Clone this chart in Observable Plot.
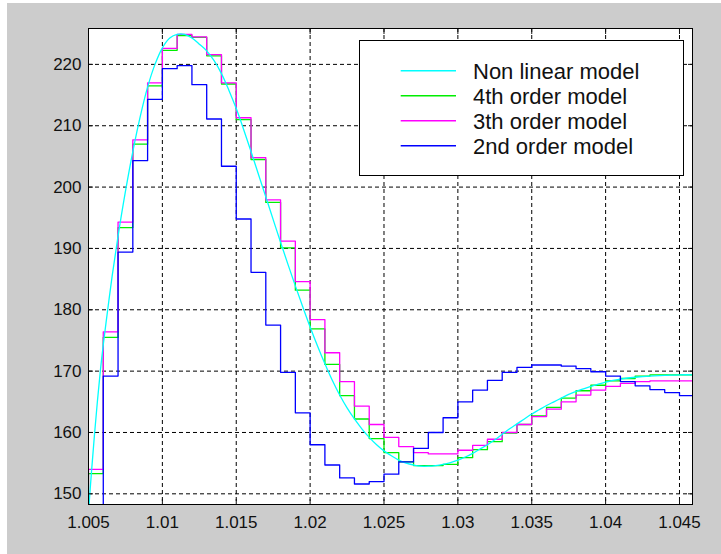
<!DOCTYPE html>
<html><head><meta charset="utf-8">
<script src="https://cdn.jsdelivr.net/npm/d3@7"></script>
<script src="https://cdn.jsdelivr.net/npm/@observablehq/plot@0.6"></script>
<style>
html,body{margin:0;padding:0;background:#fff;}
#wrap{position:absolute;left:7px;top:3px;}
</style></head><body><div id="wrap"></div>
<script>
const seriesNames = ["Non linear model","4th order model","3th order model","2nd order model"];
const seriesColors = ["#00ffff","#00ee00","#ff00ff","#0000ff"];
const xTicks = [1.005,1.01,1.015,1.02,1.025,1.03,1.035,1.04,1.045];
const yTicks = [150,160,170,180,190,200,210,220];

const stepTimes = [1.004,1.005,1.006,1.007,1.008,1.009,1.010,1.011,1.012,1.013,1.014,1.015,1.016,1.017,1.018,1.019,1.020,1.021,1.022,1.023,1.024,1.025,1.026,1.027,1.028,1.029,1.030,1.031,1.032,1.033,1.034,1.035,1.036,1.037,1.038,1.039,1.040,1.041,1.042,1.043,1.044,1.045,1.046];
const order4 = [147,153.3,175.5,193.4,207.0,216.5,222.3,224.7,224.4,221.4,216.8,211.0,204.5,197.5,190.1,183.2,176.9,171.1,166.0,162.2,159.0,156.7,155.2,154.6,154.6,154.8,155.9,157.2,158.5,159.9,161.3,162.7,164.1,165.6,166.8,167.7,168.4,168.8,169.2,169.4,169.4,169.4];
const order3 = [147,154.0,176.4,194.3,207.7,217.0,222.6,224.9,224.5,221.6,217.0,211.3,204.8,197.9,191.2,184.6,178.4,173.0,168.3,164.3,161.3,159.2,157.7,156.7,156.5,156.5,157.1,157.9,158.9,160.0,161.3,162.6,163.8,165.0,166.1,166.9,167.5,168.0,168.3,168.4,168.4,168.4];
const order2 = [147,147,169.2,189.4,204.3,214.3,219.3,219.8,216.7,211.1,203.4,194.8,186.1,177.5,169.8,163.2,158.0,154.7,152.6,151.6,152.0,153.2,155.2,157.4,160.0,162.4,165.0,166.9,168.5,169.8,170.6,171.0,171.0,170.8,170.4,169.9,169.2,168.3,167.6,167.0,166.5,166.0];

const nlTimes = [1.0050,1.0052,1.0054,1.0056,1.0058,1.0060,1.0063,1.0066,1.0070,1.0075,1.0080,1.0085,1.0090,1.0095,1.0100,1.0105,1.0110,1.0115,1.0120,1.0125,1.0130,1.0135,1.0140,1.0145,1.0150,1.0155,1.0160,1.0165,1.0170,1.0175,1.0180,1.0185,1.0190,1.0195,1.0200,1.0205,1.0210,1.0215,1.0220,1.0225,1.0230,1.0235,1.0240,1.0245,1.0250,1.0255,1.0260,1.0265,1.0270,1.0275,1.0280,1.0285,1.0290,1.0295,1.0300,1.0305,1.0310,1.0315,1.0320,1.0325,1.0330,1.0335,1.0340,1.0345,1.0350,1.0355,1.0360,1.0365,1.0370,1.0375,1.0380,1.0385,1.0390,1.0395,1.0400,1.0405,1.0410,1.0420,1.0430,1.0440,1.0450,1.0460];
const nlValues = [147.0,153.5,159.5,165.0,170.0,174.3,180.0,185.5,192.0,199.3,205.8,211.5,216.3,220.0,222.7,224.3,224.9,224.9,224.3,223.3,222.2,220.6,218.5,215.8,212.8,209.4,205.8,202.1,198.4,194.7,191.0,187.4,183.9,180.5,177.2,174.1,171.2,168.5,166.1,164.0,162.2,160.6,159.2,158.0,157.0,156.2,155.5,155.0,154.7,154.5,154.5,154.6,154.8,155.1,155.5,156.0,156.6,157.3,158.0,158.8,159.7,160.6,161.4,162.2,163.0,163.7,164.4,165.0,165.6,166.2,166.7,167.1,167.5,167.9,168.2,168.5,168.7,169.0,169.2,169.3,169.4,169.4];

const stepRows = vals => stepTimes.map((t, i) => ({t, v: vals[Math.min(i, vals.length - 1)]}));
const nlRows = nlTimes.map((t, i) => ({t, v: nlValues[i]}));
const fmt = d => String(+d.toFixed(4));
const lw = 1.3;
const dash = "4,3";

const plot = Plot.plot({
  width: 714, height: 551,
  marginLeft: 81, marginTop: 25, marginRight: 29, marginBottom: 50,
  x: {domain: [1.005, 1.04588], label: null},
  y: {domain: [148.26, 225.85], label: null},
  style: {background: "#cccccc", fontFamily: "'Liberation Sans', Arial, sans-serif", fontSize: "17px", color: "#111"},
  marks: [
    Plot.frame({fill: "white"}),
    Plot.gridX(xTicks, {stroke: "#000", strokeOpacity: 1, strokeDasharray: dash}),
    Plot.gridY(yTicks, {stroke: "#000", strokeOpacity: 1, strokeDasharray: dash}),
    Plot.line(stepRows(order4), {x: "t", y: "v", curve: "step-after", stroke: seriesColors[1], strokeWidth: lw, clip: true}),
    Plot.line(stepRows(order3), {x: "t", y: "v", curve: "step-after", stroke: seriesColors[2], strokeWidth: lw, clip: true}),
    Plot.line(nlRows, {x: "t", y: "v", curve: "catmull-rom", stroke: seriesColors[0], strokeWidth: lw, clip: true}),
    Plot.line(stepRows(order2), {x: "t", y: "v", curve: "step-after", stroke: seriesColors[3], strokeWidth: lw, clip: true}),
    Plot.axisX(xTicks, {anchor: "bottom", tickSize: 0, tickPadding: 11, tickFormat: fmt, fontSize: 17, label: null}),
    Plot.axisY(yTicks, {anchor: "left", tickSize: 0, tickPadding: 7, tickFormat: fmt, fontSize: 17, label: null}),
    Plot.axisX(xTicks, {anchor: "bottom", tickSize: -5, fill: "none", label: null}),
    Plot.axisX(xTicks, {anchor: "top", tickSize: -5, fill: "none", label: null}),
    Plot.axisY(yTicks, {anchor: "left", tickSize: -5, fill: "none", label: null}),
    Plot.axisY(yTicks, {anchor: "right", tickSize: -5, fill: "none", label: null}),
    Plot.frame({stroke: "#000"})
  ]
});

const svg = d3.select(plot);
const lg = svg.append("g").attr("class", "legend");
lg.append("rect").attr("x", 352.5).attr("y", 37.5).attr("width", 324).attr("height", 135)
  .attr("fill", "white").attr("stroke", "black");
seriesNames.forEach((name, i) => {
  const yy = 67.7 + i * 25;
  lg.append("line").attr("x1", 393.7).attr("x2", 449).attr("y1", yy).attr("y2", yy)
    .attr("stroke", seriesColors[i]).attr("stroke-width", 1.5);
  lg.append("text").attr("x", 466).attr("y", yy + 7.8).text(name)
    .attr("text-anchor", "start")
    .attr("font-size", 22).attr("fill", "#111")
    .attr("font-family", "'Liberation Sans', Arial, sans-serif");
});
document.getElementById("wrap").appendChild(plot);
</script></body></html>
